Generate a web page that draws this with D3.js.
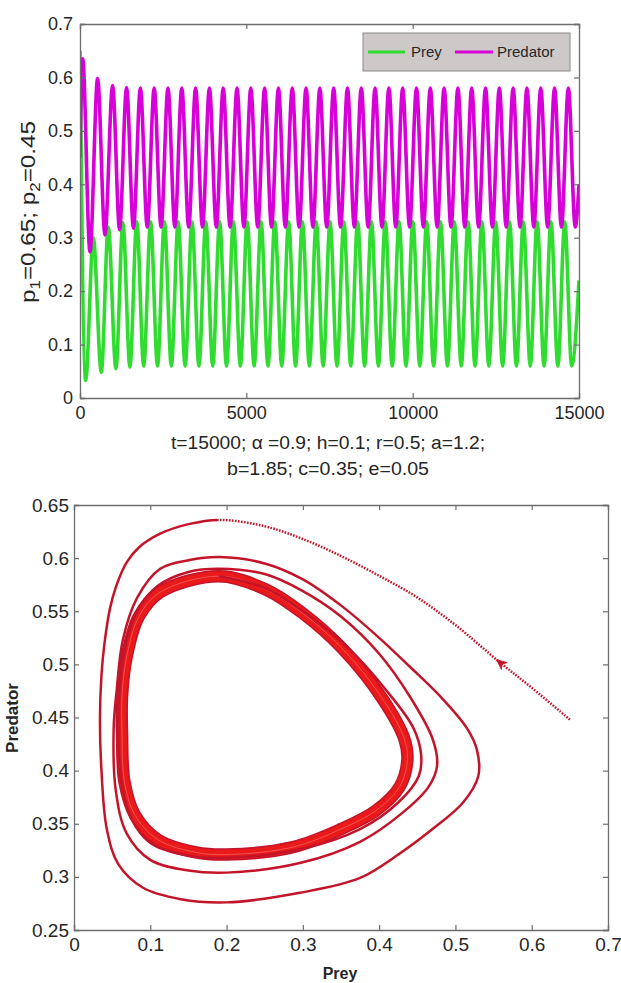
<!DOCTYPE html>
<html><head><meta charset="utf-8">
<script src="https://cdn.jsdelivr.net/npm/d3@7"></script>
<style>
body{margin:0;background:#fff}
svg{display:block}
text{font-family:Arial,"Liberation Sans",sans-serif;fill:#262626}
</style>
</head><body>
<svg id="c" width="621" height="983"></svg>
<script>
// ---------------- DATA ----------------
// Top panel: time series extrema
const timeStart = [0, 0.65, 0.45];          // t, prey, predator at start
const timeEnd   = [15000, 0.22, 0.40];      // t, prey, predator at end

const predPeakT = [80,530,980,1400,1815,2230,2645,3060,3475,3890,4305,4720,5135,5550,5965,6380,6795,7210,7625,8040,8455,8870,9285,9700,10115,10530,10945,11360,11775,12190,12605,13020,13435,13850,14265,14680];
const predPeakV = [0.635,0.598,0.585,0.581,0.580,0.580,0.580,0.580,0.580,0.580,0.580,0.580,0.580,0.580,0.580,0.580,0.580,0.580,0.580,0.580,0.580,0.580,0.580,0.580,0.580,0.580,0.580,0.580,0.580,0.580,0.580,0.580,0.580,0.580,0.580,0.580];
const predTroughT = [300,750,1190,1607,2022,2437,2852,3267,3682,4097,4512,4927,5342,5757,6172,6587,7002,7417,7832,8247,8662,9077,9492,9907,10322,10737,11152,11567,11982,12397,12812,13227,13642,14057,14472,14887];
const predTroughV = [0.274,0.305,0.315,0.318,0.320,0.320,0.320,0.320,0.320,0.320,0.320,0.320,0.320,0.320,0.320,0.320,0.320,0.320,0.320,0.320,0.320,0.320,0.320,0.320,0.320,0.320,0.320,0.320,0.320,0.320,0.320,0.320,0.320,0.320,0.320,0.320];

const preyTroughT = [170,640,1080,1500,1915,2330,2745,3160,3575,3990,4405,4820,5235,5650,6065,6480,6895,7310,7725,8140,8555,8970,9385,9800,10215,10630,11045,11460,11875,12290,12705,13120,13535,13950,14365,14780];
const preyTroughV = [0.033,0.048,0.055,0.058,0.060,0.060,0.060,0.060,0.060,0.060,0.060,0.060,0.060,0.060,0.060,0.060,0.060,0.060,0.060,0.060,0.060,0.060,0.060,0.060,0.060,0.060,0.060,0.060,0.060,0.060,0.060,0.060,0.060,0.060,0.060,0.060];
const preyPeakT = [400,850,1290,1707,2122,2537,2952,3367,3782,4197,4612,5027,5442,5857,6272,6687,7102,7517,7932,8347,8762,9177,9592,10007,10422,10837,11252,11667,12082,12497,12912,13327,13742,14157,14572];
const preyPeakV = [0.300,0.320,0.328,0.330,0.330,0.330,0.330,0.330,0.330,0.330,0.330,0.330,0.330,0.330,0.330,0.330,0.330,0.330,0.330,0.330,0.330,0.330,0.330,0.330,0.330,0.330,0.330,0.330,0.330,0.330,0.330,0.330,0.330,0.330,0.330];

const seriesNames = ["Prey","Predator"];
const topXTicks = [0,5000,10000,15000];
const topYTicks = [0,0.1,0.2,0.3,0.4,0.5,0.6,0.7];

// Bottom panel: phase-plane trajectory (prey, predator)
const initialPath = [[0.65,0.448],[0.6,0.478],[0.558,0.502],[0.5,0.537],[0.45,0.563],[0.401,0.583],[0.35,0.602],[0.3,0.618],[0.25,0.63]];
const transientPath = [[0.191,0.636],[0.15,0.632],[0.113,0.623],[0.085,0.61],[0.069,0.596],[0.055,0.573],[0.047,0.552],[0.040,0.52],[0.036,0.49],[0.034,0.448],[0.036,0.4],[0.043,0.345],[0.058,0.312],[0.09,0.29],[0.14,0.279],[0.2,0.276],[0.296,0.285],[0.375,0.299],[0.427,0.322],[0.47,0.345],[0.51,0.37],[0.53,0.395],[0.528,0.42],[0.515,0.44],[0.48,0.47],[0.44,0.498],[0.4,0.525],[0.349,0.556],[0.3,0.58],[0.25,0.595],[0.191,0.601],
 [0.15,0.598],[0.113,0.59],[0.083,0.563],[0.064,0.523],[0.056,0.476],[0.052,0.44],[0.055,0.38],[0.069,0.341],[0.1,0.316],[0.15,0.306],[0.2,0.304],[0.296,0.313],[0.375,0.333],[0.43,0.36],[0.465,0.385],[0.476,0.405],[0.47,0.43],[0.44,0.47],[0.4,0.51],[0.35,0.545],[0.3,0.569],[0.25,0.585],[0.191,0.59],
 [0.15,0.587],[0.11,0.574],[0.085,0.553],[0.068,0.52],[0.06,0.48],[0.058,0.44],[0.062,0.39],[0.075,0.355],[0.1,0.332],[0.15,0.32],[0.2,0.318],[0.296,0.326],[0.375,0.345],[0.425,0.37],[0.452,0.395],[0.455,0.415],[0.445,0.44],[0.41,0.475],[0.36,0.515],[0.3,0.55],[0.25,0.572],[0.19,0.583]];
const limitCycle = [[0.19,0.583],[0.113,0.568],[0.085,0.545],[0.069,0.507],[0.063,0.47],[0.063,0.435],[0.066,0.39],[0.08,0.358],[0.11,0.335],[0.16,0.323],[0.2,0.321],[0.287,0.328],[0.35,0.345],[0.395,0.362],[0.427,0.385],[0.437,0.41],[0.433,0.43],[0.405,0.467],[0.353,0.514],[0.3,0.548],[0.25,0.571]];
const arrowIndex = 2;
const botXTicks = [0,0.1,0.2,0.3,0.4,0.5,0.6,0.7];
const botYTicks = [0.25,0.3,0.35,0.4,0.45,0.5,0.55,0.6,0.65];

// ---------------- DRAWING ----------------
const svg = d3.select("#c");
const fmt = d3.format("~g");
const frameColor = "#6e6e6e";
const colPrey = "#2fdc2f", colPred = "#d800d8";

function frame(g, x, y, xt, yt, xf, yf, fs, padY){
  const [x0,x1] = x.range(), [y0,y1] = y.range();
  g.append("g").attr("transform",`translate(0,${y0})`)
    .call(d3.axisBottom(x).tickValues(xt).tickFormat(xf).tickSize(-5).tickPadding(8));
  g.append("g").attr("transform",`translate(0,${y1})`)
    .call(d3.axisTop(x).tickValues(xt).tickFormat("").tickSize(-5));
  g.append("g").attr("transform",`translate(${x0},0)`)
    .call(d3.axisLeft(y).tickValues(yt).tickFormat(yf).tickSize(-5).tickPadding(padY));
  g.append("g").attr("transform",`translate(${x1},0)`)
    .call(d3.axisRight(y).tickValues(yt).tickFormat("").tickSize(-5));
  g.selectAll(".domain").attr("stroke",frameColor).attr("stroke-width",1.3);
  g.selectAll(".tick line").attr("stroke",frameColor).attr("stroke-width",1.2);
  g.selectAll(".tick text").attr("font-size",fs).attr("font-family","Arial, 'Liberation Sans', sans-serif").attr("fill","#262626");
}

// ---- Top panel ----
const xT = d3.scaleLinear().domain([0,15000]).range([80,579]);
const yT = d3.scaleLinear().domain([0,0.7]).range([398,24]);

function merge(tA,vA,tB,vB){
  const pts=[];
  tA.forEach((t,i)=>pts.push([t,vA[i]]));
  tB.forEach((t,i)=>pts.push([t,vB[i]]));
  return pts;
}
const preyPts = [[timeStart[0],timeStart[1]], ...merge(preyTroughT,preyTroughV,preyPeakT,preyPeakV), [timeEnd[0],timeEnd[1]]].sort((a,b)=>a[0]-b[0]);
const predPts = [[timeStart[0],timeStart[2]], ...merge(predPeakT,predPeakV,predTroughT,predTroughV), [timeEnd[0],timeEnd[2]]].sort((a,b)=>a[0]-b[0]);

const lineT = d3.line().x(d=>xT(d[0])).y(d=>yT(d[1])).curve(d3.curveMonotoneX);
const topG = svg.append("g");
topG.append("defs").append("clipPath").attr("id","clipT").append("rect")
  .attr("x",80).attr("y",24).attr("width",499).attr("height",374);
const plotT = topG.append("g").attr("clip-path","url(#clipT)");
plotT.append("path").datum(preyPts).attr("d",lineT).attr("fill","none")
  .attr("stroke",colPrey).attr("stroke-width",3.6).attr("stroke-linejoin","round");
plotT.append("path").datum(predPts).attr("d",lineT).attr("fill","none")
  .attr("stroke",colPred).attr("stroke-width",3.6).attr("stroke-linejoin","round");
frame(topG, xT, yT, topXTicks, topYTicks, d3.format("d"), fmt, 18, 7);

// legend
const lg = topG.append("g");
lg.append("rect").attr("x",363).attr("y",33).attr("width",207).attr("height",38)
  .attr("fill","#cdc9c9").attr("stroke","#8a8a8a").attr("stroke-width",1);
[[368,405,411,colPrey],[455,493,497,colPred]].forEach((p,i)=>{
  lg.append("line").attr("x1",p[0]).attr("x2",p[1]).attr("y1",52).attr("y2",52)
    .attr("stroke",p[3]).attr("stroke-width",3);
  lg.append("text").attr("x",p[2]).attr("y",52).attr("dy","0.35em")
    .attr("font-size",15).text(seriesNames[i]);
});

// axis labels
topG.append("text").attr("x",328).attr("y",449).attr("text-anchor","middle").attr("font-size",19)
  .attr("textLength",314).attr("lengthAdjust","spacingAndGlyphs")
  .text("t=15000; \u03b1 =0.9; h=0.1; r=0.5; a=1.2;");
topG.append("text").attr("x",328).attr("y",475).attr("text-anchor","middle").attr("font-size",19)
  .attr("textLength",202).attr("lengthAdjust","spacingAndGlyphs")
  .text("b=1.85; c=0.35; e=0.05");
const yl = topG.append("text").attr("transform","translate(35,212) rotate(-90)")
  .attr("text-anchor","middle").attr("font-size",20)
  .attr("textLength",182).attr("lengthAdjust","spacingAndGlyphs");
yl.append("tspan").text("p");
yl.append("tspan").attr("font-size",14).attr("dy",5).text("1");
yl.append("tspan").attr("dy",-5).text("=0.65; p");
yl.append("tspan").attr("font-size",14).attr("dy",5).text("2");
yl.append("tspan").attr("dy",-5).text("=0.45");

// ---- Bottom panel ----
const xB = d3.scaleLinear().domain([0,0.7]).range([74,608]);
const yB = d3.scaleLinear().domain([0.25,0.65]).range([930,505]);
const bot = svg.append("g");
const lineB = d3.line().x(d=>xB(d[0])).y(d=>yB(d[1])).curve(d3.curveCatmullRom.alpha(0.5));
const lineBC = d3.line().x(d=>xB(d[0])).y(d=>yB(d[1])).curve(d3.curveCatmullRomClosed.alpha(0.5));
const red = "#ea1a1a", darkRed = "#c4142a";

// limit-cycle band: dark edges, bright interior
bot.append("path").datum(limitCycle).attr("d",lineBC).attr("fill","none")
  .attr("stroke",darkRed).attr("stroke-width",12.5);
bot.append("path").datum(limitCycle).attr("d",lineBC).attr("fill","none")
  .attr("stroke",red).attr("stroke-width",9.5);
bot.append("path").datum(limitCycle).attr("d",lineBC).attr("fill","none")
  .attr("stroke","#f6a0a0").attr("stroke-width",0.7).attr("opacity",0.6);

// full trajectory as one smooth path; the initial approach is drawn dotted
const fullPath = initialPath.concat(transientPath);
const trj = bot.append("path").datum(fullPath).attr("d",lineB).attr("fill","none")
  .attr("stroke",darkRed).attr("stroke-width",2.5);
const tmp = bot.append("path").datum(initialPath.concat([transientPath[0]])).attr("d",lineB);
const dotLen = tmp.node().getTotalLength();
tmp.remove();
const dashes = [];
for (let s = 0; s < dotLen; s += 3) dashes.push(1.6, 1.4);
dashes.push(100000, 0);
trj.attr("stroke-dasharray", dashes.join(","));

// arrow head
const ap = initialPath[arrowIndex], an = initialPath[arrowIndex+1], apv = initialPath[arrowIndex-1];
const ang = Math.atan2(yB(an[1])-yB(apv[1]), xB(an[0])-xB(apv[0]))*180/Math.PI;
bot.append("path").attr("d","M4,0 L-6,-4.5 L-3,0 L-6,4.5 Z")
  .attr("transform",`translate(${xB(ap[0])},${yB(ap[1])}) rotate(${ang})`)
  .attr("fill",darkRed).attr("stroke",darkRed).attr("stroke-width",0.8);

frame(bot, xB, yB, botXTicks, botYTicks, fmt, fmt, 19, 5);

bot.append("text").attr("x",340).attr("y",979).attr("text-anchor","middle")
  .attr("font-size",16).attr("font-weight","bold").attr("fill","#333").text("Prey");
bot.append("text").attr("transform","translate(18,718) rotate(-90)").attr("text-anchor","middle")
  .attr("font-size",17).attr("font-weight","bold").attr("fill","#333").text("Predator");
</script>
</body></html>
